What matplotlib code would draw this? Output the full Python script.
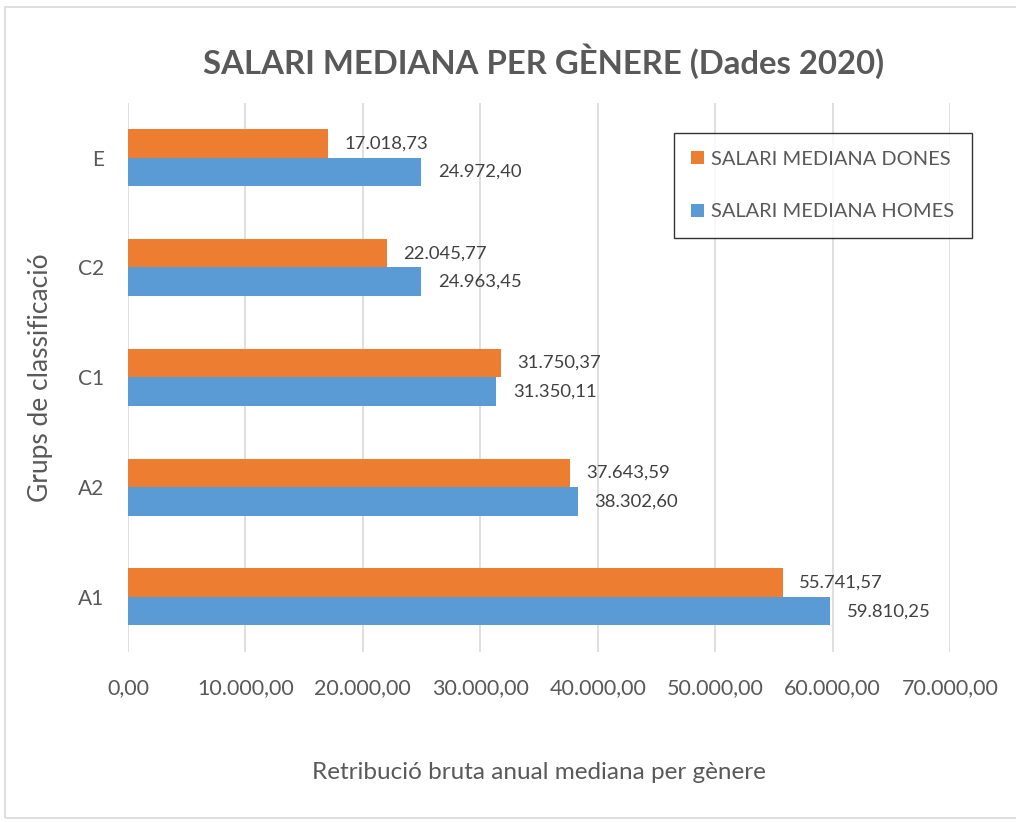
import matplotlib
matplotlib.use("Agg")
import matplotlib.pyplot as plt
from matplotlib.patches import Rectangle

# data
grups = ["A1", "A2", "C1", "C2", "E"]
dones = [55741.57, 37643.59, 31750.37, 22045.77, 17018.73]
homes = [59810.25, 38302.60, 31350.11, 24963.45, 24972.40]
xticks = [0, 10000, 20000, 30000, 40000, 50000, 60000, 70000]

plt.rcParams['font.family'] = ['Lato', 'DejaVu Sans']
txt = '#595959'
orange = '#ED7D31'
blue = '#5B9BD5'


def eur(v):
	s = '{:,.2f}'.format(v)
	return s.replace(',', 'X').replace('.', ',').replace('X', '.')


fig = plt.figure(figsize=(10.16, 8.22), dpi=100)
ax = fig.add_axes([0.126, 0.207, 0.809, 0.668])

# outer chart border
fig.patches.append(Rectangle((0.005, 0.005), 1.2, 0.986, transform=fig.transFigure,
	fill=False, edgecolor='#D9D9D9', lw=1.2))

h = 0.26
y = list(range(len(grups)))
b1 = ax.barh([i + h / 2 for i in y], dones, height=h, color=orange, label='SALARI MEDIANA DONES', zorder=3)
b2 = ax.barh([i - h / 2 for i in y], homes, height=h, color=blue, label='SALARI MEDIANA HOMES', zorder=3)

for bars, vals in ((b1, dones), (b2, homes)):
	for r, v in zip(bars, vals):
		ax.annotate(eur(v), (v, r.get_y() + r.get_height() / 2), xytext=(12, 0),
			textcoords='offset points', va='center', ha='left', fontsize=13.3, color='#404040')

ax.set_xlim(0, 70000)
ax.set_ylim(-0.5, 4.5)
ax.set_xticks(xticks)
ax.set_xticklabels([eur(v) for v in xticks])
ax.set_yticks(y)
ax.set_yticklabels(grups)
ax.tick_params(axis='x', length=0, pad=19, labelsize=15.5, labelcolor=txt)
ax.tick_params(axis='y', length=0, pad=17, labelsize=15, labelcolor=txt)
ax.grid(axis='x', color='#D9D9D9', lw=1.2, zorder=0)
for s in ax.spines.values():
	s.set_visible(False)

ax.set_xlabel('Retribució bruta anual mediana per gènere', fontsize=17.5, color=txt, labelpad=46)
ax.set_ylabel('Grups de classificació', fontsize=19, color=txt, labelpad=18)

fig.text(0.535, 0.925, 'SALARI MEDIANA PER GÈNERE (Dades 2020)', ha='center', va='center',
	fontsize=23.7, fontweight='bold', color=txt)

handles = [b1, b2]
leg = ax.legend(handles=handles, loc='upper left', bbox_to_anchor=(0.663, 0.838), bbox_transform=fig.transFigure,
	fontsize=14.4, frameon=True, fancybox=False, edgecolor='black', labelcolor=txt,
	handlelength=0.65, handleheight=0.65, handletextpad=0.35, labelspacing=1.78,
	borderpad=0.88, borderaxespad=0)
leg.get_frame().set_linewidth(1.0)

fig.savefig('out.png', dpi=100)
